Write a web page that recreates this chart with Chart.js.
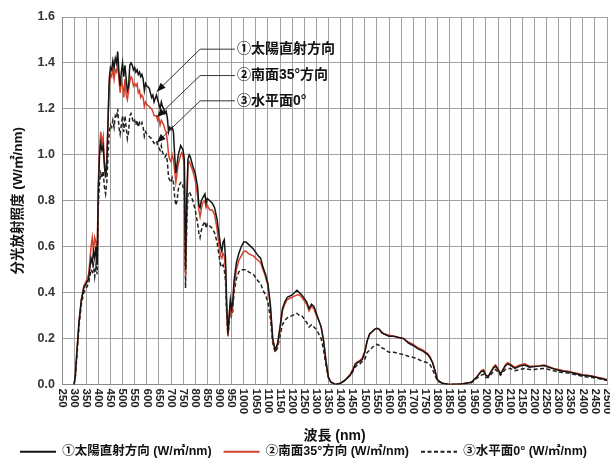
<!DOCTYPE html>
<html>
<head>
<meta charset="utf-8">
<script src="https://cdn.jsdelivr.net/npm/chart.js@4.4.1/dist/chart.umd.min.js"></script>
<style>
  html, body { margin: 0; padding: 0; background: #fff; }
  #wrap { width: 610px; height: 461px; }
</style>
</head>
<body>
<div id="wrap"><canvas id="spectrum"></canvas></div>
<script>
// wavelength (nm) and spectral irradiance (W/m2/nm)
const WAVELENGTHS = [
  300, 305, 310, 320, 330, 340, 350, 360, 370, 375, 380, 385, 390, 395, 400, 405, 410, 415, 420, 425,
  430, 435, 440, 445, 450, 455, 460, 465, 470, 475, 480, 485, 490, 495, 500, 505, 510, 515, 520, 525,
  530, 535, 540, 545, 550, 555, 560, 565, 570, 575, 580, 585, 590, 595, 600, 610, 620, 625, 630, 640,
  645, 650, 655, 660, 665, 670, 675, 680, 685, 690, 695, 700, 705, 710, 715, 720, 725, 730, 735, 740,
  745, 750, 755, 760, 765, 770, 775, 780, 790, 800, 810, 815, 820, 825, 830, 840, 845, 850, 860, 870,
  880, 890, 900, 905, 910, 915, 920, 925, 930, 935, 940, 945, 950, 955, 960, 970, 980, 990, 1000, 1010,
  1020, 1040, 1060, 1070, 1080, 1090, 1100, 1110, 1120, 1130, 1140, 1150, 1160, 1170, 1180, 1200, 1220, 1230, 1240, 1260,
  1270, 1280, 1290, 1300, 1310, 1320, 1330, 1340, 1350, 1360, 1380, 1400, 1420, 1440, 1450, 1460, 1470, 1480, 1490, 1500,
  1510, 1520, 1530, 1540, 1550, 1560, 1570, 1580, 1600, 1620, 1640, 1660, 1680, 1700, 1720, 1740, 1760, 1770, 1780, 1790,
  1800, 1820, 1850, 1900, 1940, 1960, 1980, 1990, 2000, 2010, 2030, 2040, 2050, 2060, 2080, 2090, 2100, 2120, 2140, 2160,
  2180, 2200, 2220, 2240, 2260, 2280, 2300, 2320, 2340, 2360, 2380, 2400, 2420, 2440, 2460, 2480, 2500
];

const DIRECT = [
  0.00, 0.04, 0.12, 0.27, 0.37, 0.42, 0.44, 0.46, 0.55, 0.53, 0.58, 0.55, 0.60, 0.52, 0.85, 1.00, 1.05, 1.02, 1.04, 0.95,
  0.90, 0.96, 1.15, 1.33, 1.38, 1.37, 1.41, 1.38, 1.42, 1.40, 1.45, 1.36, 1.30, 1.36, 1.40, 1.34, 1.39, 1.33, 1.28, 1.30,
  1.39, 1.40, 1.39, 1.37, 1.38, 1.36, 1.37, 1.35, 1.36, 1.34, 1.35, 1.33, 1.28, 1.31, 1.30, 1.29, 1.25, 1.26, 1.23, 1.26,
  1.24, 1.22, 1.20, 1.23, 1.21, 1.20, 1.18, 1.19, 1.16, 1.10, 1.12, 1.11, 1.12, 1.10, 1.00, 0.92, 0.96, 1.00, 1.02, 1.04,
  1.03, 1.02, 0.98, 0.50, 0.80, 0.98, 1.00, 0.99, 0.95, 0.92, 0.86, 0.78, 0.77, 0.80, 0.81, 0.83, 0.79, 0.81, 0.80, 0.79,
  0.77, 0.72, 0.64, 0.60, 0.58, 0.62, 0.63, 0.55, 0.35, 0.22, 0.30, 0.37, 0.33, 0.36, 0.45, 0.53, 0.57, 0.60, 0.62, 0.62,
  0.61, 0.59, 0.56, 0.55, 0.51, 0.48, 0.44, 0.35, 0.20, 0.15, 0.18, 0.25, 0.33, 0.36, 0.38, 0.39, 0.41, 0.40, 0.39, 0.36,
  0.33, 0.35, 0.34, 0.31, 0.28, 0.25, 0.19, 0.10, 0.03, 0.01, 0.00, 0.005, 0.02, 0.04, 0.06, 0.085, 0.095, 0.10, 0.11, 0.14,
  0.19, 0.22, 0.23, 0.24, 0.245, 0.24, 0.225, 0.22, 0.21, 0.21, 0.205, 0.20, 0.18, 0.17, 0.155, 0.145, 0.13, 0.115, 0.095, 0.06,
  0.02, 0.005, 0.00, 0.002, 0.01, 0.03, 0.055, 0.06, 0.04, 0.035, 0.07, 0.08, 0.065, 0.045, 0.08, 0.09, 0.085, 0.07, 0.08, 0.085,
  0.075, 0.078, 0.08, 0.083, 0.075, 0.068, 0.062, 0.058, 0.055, 0.05, 0.045, 0.04, 0.038, 0.035, 0.03, 0.025, 0.02
];

const SOUTH35 = [
  0.00, 0.04, 0.12, 0.27, 0.37, 0.43, 0.45, 0.48, 0.60, 0.64, 0.58, 0.64, 0.62, 0.56, 0.88, 1.03, 1.10, 1.05, 1.08, 0.97,
  0.92, 0.98, 1.14, 1.30, 1.35, 1.34, 1.38, 1.33, 1.37, 1.36, 1.40, 1.33, 1.27, 1.32, 1.30, 1.25, 1.33, 1.26, 1.24, 1.28,
  1.32, 1.34, 1.33, 1.30, 1.31, 1.30, 1.31, 1.27, 1.28, 1.25, 1.26, 1.25, 1.21, 1.23, 1.22, 1.21, 1.20, 1.19, 1.17, 1.17,
  1.15, 1.16, 1.13, 1.15, 1.14, 1.13, 1.11, 1.10, 1.06, 1.00, 0.98, 0.97, 1.00, 0.98, 0.93, 0.88, 0.92, 0.96, 0.98, 1.00,
  1.01, 0.99, 0.95, 0.47, 0.76, 0.96, 0.97, 0.96, 0.93, 0.89, 0.82, 0.76, 0.73, 0.76, 0.79, 0.80, 0.77, 0.78, 0.76, 0.76,
  0.74, 0.68, 0.59, 0.56, 0.55, 0.57, 0.56, 0.50, 0.32, 0.21, 0.28, 0.35, 0.31, 0.34, 0.42, 0.50, 0.54, 0.56, 0.58, 0.58,
  0.57, 0.56, 0.54, 0.53, 0.50, 0.47, 0.43, 0.34, 0.19, 0.15, 0.17, 0.24, 0.32, 0.35, 0.37, 0.38, 0.39, 0.39, 0.38, 0.35,
  0.32, 0.34, 0.33, 0.30, 0.28, 0.25, 0.19, 0.10, 0.03, 0.01, 0.00, 0.005, 0.02, 0.045, 0.065, 0.09, 0.10, 0.105, 0.115, 0.145,
  0.19, 0.22, 0.23, 0.24, 0.245, 0.24, 0.23, 0.22, 0.215, 0.21, 0.205, 0.20, 0.185, 0.175, 0.16, 0.15, 0.135, 0.12, 0.095, 0.06,
  0.02, 0.005, 0.00, 0.002, 0.01, 0.03, 0.06, 0.065, 0.04, 0.035, 0.075, 0.085, 0.07, 0.045, 0.085, 0.095, 0.09, 0.075, 0.085, 0.09,
  0.08, 0.08, 0.082, 0.085, 0.078, 0.07, 0.065, 0.06, 0.058, 0.052, 0.048, 0.043, 0.04, 0.037, 0.032, 0.027, 0.022
];

const HORIZONTAL = [
  0.00, 0.03, 0.10, 0.25, 0.35, 0.40, 0.42, 0.44, 0.50, 0.49, 0.52, 0.47, 0.52, 0.48, 0.78, 0.88, 0.92, 0.90, 0.93, 0.86,
  0.83, 0.88, 1.00, 1.10, 1.13, 1.12, 1.15, 1.12, 1.17, 1.16, 1.20, 1.12, 1.09, 1.13, 1.17, 1.10, 1.17, 1.12, 1.07, 1.10,
  1.17, 1.18, 1.16, 1.14, 1.15, 1.13, 1.15, 1.12, 1.14, 1.13, 1.14, 1.12, 1.08, 1.10, 1.09, 1.08, 1.07, 1.06, 1.05, 1.06,
  1.04, 1.03, 1.02, 1.04, 1.01, 1.00, 0.99, 1.00, 0.97, 0.90, 0.89, 0.88, 0.90, 0.88, 0.82, 0.78, 0.80, 0.85, 0.87, 0.88,
  0.88, 0.86, 0.84, 0.42, 0.70, 0.83, 0.84, 0.83, 0.80, 0.76, 0.70, 0.66, 0.64, 0.67, 0.69, 0.71, 0.68, 0.70, 0.69, 0.68,
  0.66, 0.62, 0.55, 0.52, 0.51, 0.52, 0.50, 0.45, 0.30, 0.21, 0.26, 0.33, 0.30, 0.32, 0.40, 0.46, 0.49, 0.50, 0.50, 0.50,
  0.49, 0.48, 0.45, 0.44, 0.41, 0.39, 0.36, 0.29, 0.18, 0.14, 0.16, 0.21, 0.26, 0.28, 0.29, 0.30, 0.31, 0.30, 0.30, 0.27,
  0.25, 0.26, 0.25, 0.24, 0.22, 0.20, 0.15, 0.08, 0.03, 0.01, 0.00, 0.005, 0.02, 0.04, 0.055, 0.075, 0.085, 0.09, 0.10, 0.11,
  0.14, 0.15, 0.16, 0.17, 0.175, 0.17, 0.16, 0.155, 0.14, 0.14, 0.135, 0.13, 0.123, 0.118, 0.11, 0.10, 0.095, 0.085, 0.065, 0.04,
  0.015, 0.005, 0.00, 0.002, 0.008, 0.025, 0.04, 0.045, 0.03, 0.03, 0.055, 0.065, 0.055, 0.04, 0.065, 0.07, 0.07, 0.06, 0.065, 0.07,
  0.065, 0.065, 0.068, 0.07, 0.065, 0.06, 0.055, 0.052, 0.05, 0.045, 0.04, 0.035, 0.033, 0.03, 0.027, 0.022, 0.018
];

const SERIES_NAMES = ['①太陽直射方向 (W/㎡/nm)', '②南面35°方向 (W/㎡/nm)', '③水平面0° (W/㎡/nm)'];
const CALLOUT_TEXTS = ['①太陽直射方向', '②南面35°方向', '③水平面0°'];
const CALLOUT_TIPS = [1.275, 1.163, 1.052];    // curve values the arrows point at
const CALLOUT_LEVELS = [1.46, 1.345, 1.235];   // heights of the label lines

const FONT = "'Liberation Sans', 'Noto Sans CJK JP', sans-serif";

function toPoints(vals) {
  return WAVELENGTHS.map((w, i) => ({ x: w, y: vals[i] }));
}

// x tick labels read top-to-bottom (rotated clockwise), so draw them here
const xLabelPlugin = {
  id: 'xLabels',
  afterDraw(chart) {
    const { ctx, scales: { x }, chartArea } = chart;
    ctx.save();
    ctx.font = 'bold 11.5px ' + FONT;
    ctx.fillStyle = '#222';
    ctx.textAlign = 'left';
    ctx.textBaseline = 'middle';
    x.ticks.forEach(t => {
      const px = x.getPixelForValue(t.value);
      ctx.save();
      ctx.translate(px, chartArea.bottom + 4);
      ctx.rotate(Math.PI / 2);
      ctx.fillText(String(t.value), 0, 0);
      ctx.restore();
    });
    ctx.restore();
  }
};

// callout labels with arrows
const calloutPlugin = {
  id: 'callouts',
  afterDatasetsDraw(chart) {
    const { ctx, scales: { x, y } } = chart;
    const tipX = x.getPixelForValue(641);
    const elbowX = x.getPixelForValue(820);
    const textX = x.getPixelForValue(972);
    ctx.save();
    ctx.strokeStyle = '#333';
    ctx.fillStyle = '#111';
    ctx.lineWidth = 1;
    ctx.font = 'bold 14px ' + FONT;
    ctx.textBaseline = 'middle';
    CALLOUT_TEXTS.forEach((txt, i) => {
      const ty = y.getPixelForValue(CALLOUT_TIPS[i]);
      const ey = y.getPixelForValue(CALLOUT_LEVELS[i]);
      ctx.beginPath();
      ctx.moveTo(tipX, ty);
      ctx.lineTo(elbowX, ey);
      ctx.lineTo(textX - 2, ey);
      ctx.stroke();
      const ang = Math.atan2(ty - ey, tipX - elbowX);
      const len = 9, half = 3.5;
      ctx.beginPath();
      ctx.moveTo(tipX, ty);
      ctx.lineTo(tipX - len * Math.cos(ang) + half * Math.sin(ang), ty - len * Math.sin(ang) - half * Math.cos(ang));
      ctx.lineTo(tipX - len * Math.cos(ang) - half * Math.sin(ang), ty - len * Math.sin(ang) + half * Math.cos(ang));
      ctx.closePath();
      ctx.fill();
      ctx.fillText(txt, textX, ey);
    });
    ctx.restore();
  }
};

new Chart(document.getElementById('spectrum'), {
  type: 'line',
  data: {
    datasets: [
      { label: SERIES_NAMES[0], data: toPoints(DIRECT), borderColor: '#151515', borderWidth: 1.5 },
      { label: SERIES_NAMES[1], data: toPoints(SOUTH35), borderColor: '#d4412c', borderWidth: 1.5 },
      { label: SERIES_NAMES[2], data: toPoints(HORIZONTAL), borderColor: '#222', borderWidth: 1.5, borderDash: [4, 2.5] }
    ]
  },
  options: {
    responsive: true,
    maintainAspectRatio: false,
    animation: false,
    elements: { point: { radius: 0 }, line: { tension: 0 } },
    layout: { padding: { top: 17, right: 3, left: 0, bottom: -7 } },
    plugins: {
      tooltip: { enabled: false },
      legend: {
        position: 'bottom',
        labels: {
          usePointStyle: true,
          pointStyle: 'line',
          pointStyleWidth: 36,
          padding: 12,
          color: '#111',
          font: { family: FONT, size: 12.5, weight: 'bold' },
          generateLabels(chart) {
            const items = Chart.defaults.plugins.legend.labels.generateLabels(chart);
            items.forEach(it => {
              const ds = chart.data.datasets[it.datasetIndex];
              it.strokeStyle = ds.borderColor;
              it.lineDash = ds.borderDash || [];
              it.lineWidth = 2;
            });
            return items;
          }
        }
      }
    },
    scales: {
      x: {
        type: 'linear',
        min: 250,
        max: 2500,
        ticks: { stepSize: 50, maxTicksLimit: 100, display: false },
        grid: { color: '#a0a0a0', drawTicks: false },
        border: { color: '#8a8a8a' },
        title: {
          display: true,
          text: '波長 (nm)',
          color: '#111',
          font: { family: FONT, size: 14, weight: 'bold' },
          padding: { top: 0, bottom: -11 }
        },
        afterFit(scale) { scale.height = 49; }
      },
      y: {
        min: 0,
        max: 1.6,
        ticks: {
          stepSize: 0.2,
          padding: 7,
          color: '#333',
          font: { family: FONT, size: 12.5, weight: 'bold' },
          callback: v => v.toFixed(1)
        },
        grid: { color: '#a0a0a0', drawTicks: false },
        border: { color: '#8a8a8a' },
        title: {
          display: true,
          text: '分光放射照度 (W/㎡/nm)',
          color: '#111',
          font: { family: FONT, size: 13.5, weight: 'bold' },
          padding: { top: 10, bottom: 0 }
        },
        afterFit(scale) { scale.width = 62; }
      }
    }
  },
  plugins: [xLabelPlugin, calloutPlugin]
});
</script>
</body>
</html>
